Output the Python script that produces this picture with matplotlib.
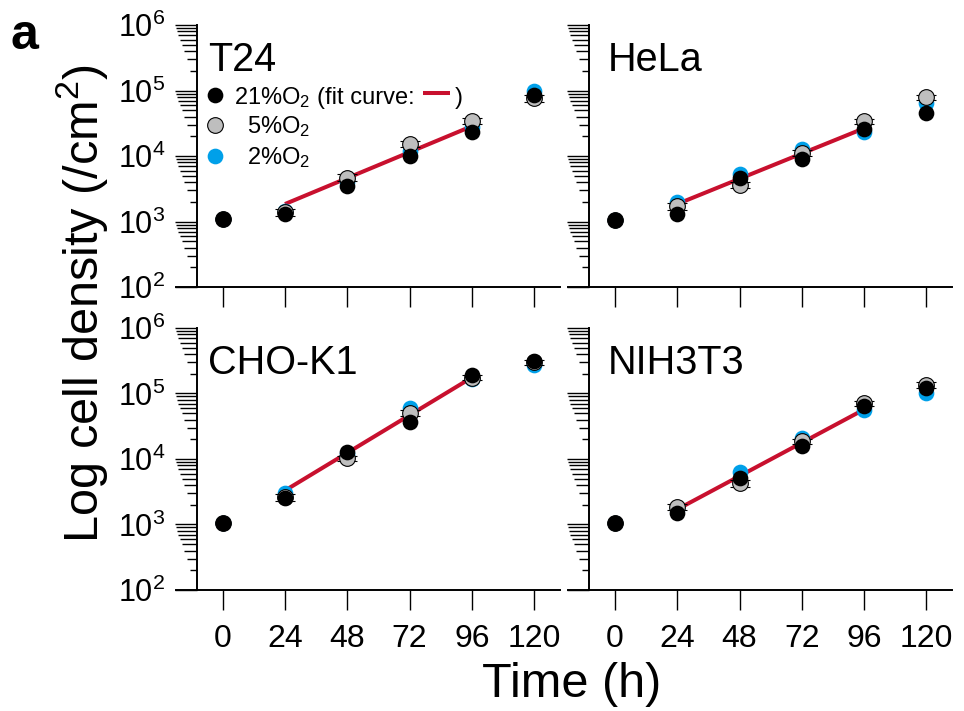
import numpy as np
import matplotlib
matplotlib.use('Agg')
import matplotlib.pyplot as plt
from matplotlib.ticker import FixedLocator, NullFormatter, FuncFormatter
from matplotlib.lines import Line2D
from matplotlib.transforms import blended_transform_factory

plt.rcParams['font.family'] = 'Liberation Sans'
plt.rcParams['mathtext.fontset'] = 'custom'
plt.rcParams['mathtext.rm'] = 'Liberation Sans'
plt.rcParams['mathtext.it'] = 'Liberation Sans:italic'
plt.rcParams['mathtext.bf'] = 'Liberation Sans:bold'

# data (cells / cm2)
hours = [0, 24, 48, 72, 96, 120]
fit_hours = [24, 96]
cell_lines = ['T24', 'HeLa', 'CHO-K1', 'NIH3T3']
o2_labels = ['21%O$\\mathregular{_2}$', '5%O$\\mathregular{_2}$', '2%O$\\mathregular{_2}$']

t24_21 = [1.1e3, 1.3e3, 3.5e3, 1.0e4, 2.35e4, 8.5e4]
t24_5 = [1.1e3, 1.4e3, 4.7e3, 1.55e4, 3.45e4, 7.6e4]
t24_2 = [1.1e3, 1.45e3, 4.0e3, 1.2e4, 2.8e4, 1.0e5]
t24_fit = [1.85e3, 2.85e4]
t24_err = [np.nan, 0.12, 0.12, 0.10, 0.10, 0.12]

hela_21 = [1.05e3, 1.3e3, 4.6e3, 9.0e3, 2.55e4, 4.5e4]
hela_5 = [1.05e3, 1.7e3, 3.6e3, 1.12e4, 3.4e4, 7.9e4]
hela_2 = [1.05e3, 2.0e3, 5.4e3, 1.28e4, 2.35e4, 6.5e4]
hela_fit = [1.85e3, 2.65e4]
hela_err = [np.nan, 0.12, 0.10, 0.10, 0.10, 0.10]

cho_21 = [1.07e3, 2.5e3, 1.3e4, 3.7e4, 1.9e5, 3.1e5]
cho_5 = [1.07e3, 2.6e3, 1.02e4, 5.0e4, 1.75e5, 3.0e5]
cho_2 = [1.07e3, 3.0e3, 1.2e4, 5.9e4, 1.65e5, 2.7e5]
cho_fit = [3.3e3, 1.75e5]
cho_err = [np.nan, 0.12, 0.10, 0.10, 0.08, 0.08]

nih_21 = [1.04e3, 1.5e3, 5.1e3, 1.6e4, 6.4e4, 1.23e5]
nih_5 = [1.04e3, 1.85e3, 4.3e3, 1.85e4, 7.1e4, 1.35e5]
nih_2 = [1.04e3, 1.7e3, 6.4e3, 2.07e4, 5.6e4, 1.03e5]
nih_fit = [1.7e3, 5.7e4]
nih_err = [np.nan, 0.10, 0.12, 0.10, 0.10, 0.10]

panels = [
    (t24_21, t24_5, t24_2, t24_fit, t24_err),
    (hela_21, hela_5, hela_2, hela_fit, hela_err),
    (cho_21, cho_5, cho_2, cho_fit, cho_err),
    (nih_21, nih_5, nih_2, nih_fit, nih_err),
]

black = 'black'
gray = '#bebebe'
blue = '#00a0e9'
red = '#c8102e'

major_len = 15.8  # pt
fig = plt.figure(figsize=(9.64, 7.11), dpi=100)

lefts = [0.1826, 0.5895]
bottoms = [0.5963, 0.1702]
title_x = [0.083, 0.104]

for i, name in enumerate(cell_lines):
    row, col = divmod(i, 2)
    ax = fig.add_axes([lefts[col], bottoms[row], 0.3983, 0.3685])
    s21, s5, s2, fit, err = panels[i]
    err = np.array(err)

    ax.plot(fit_hours, fit, color=red, lw=2.9, solid_capstyle='butt', zorder=1)

    styles = [
        (s2, blue, blue, blue, 2),
        (s5, gray, black, black, 3),
        (s21, black, black, black, 4),
    ]
    for vals, fc, ec, barc, z in styles:
        vals = np.array(vals)
        ax.errorbar(hours, vals, yerr=vals * err, fmt='o', ms=11.3,
                    mfc=fc, mec=ec, mew=0.8 if fc == gray else 0,
                    ecolor=barc, elinewidth=1.0, capsize=7.2, capthick=1.0,
                    zorder=z)

    ax.set_yscale('log')
    ax.set_ylim(1e2, 1e6)
    ax.set_xlim(-18, 130)
    ax.spines[['top', 'right']].set_visible(False)
    ax.spines['left'].set_position(('data', -10))
    for sp in ['left', 'bottom']:
        ax.spines[sp].set_linewidth(1.4)

    ax.set_xticks(hours)
    ax.tick_params(axis='x', length=14.4, width=1.0, labelsize=23, pad=10)

    majors = [1e2, 1e3, 1e4, 1e5, 1e6]
    minors = [m * 10.0 ** k for k in range(2, 6) for m in range(2, 10)]
    ax.yaxis.set_major_locator(FixedLocator(majors))
    ax.yaxis.set_minor_locator(FixedLocator(minors))
    ax.yaxis.set_minor_formatter(NullFormatter())
    ax.yaxis.set_major_formatter(FuncFormatter(
        lambda v, p: r'$\mathregular{10^{%d}}$' % round(np.log10(v))))
    ax.tick_params(axis='y', which='major', length=major_len, width=1.0,
                   labelsize=22, pad=7)
    ax.tick_params(axis='y', which='minor', length=major_len, width=1.0)
    # minor tick length follows the log of the mantissa
    for tick, loc in zip(ax.yaxis.get_minor_ticks(len(minors)), minors):
        mant = loc / 10.0 ** np.floor(np.log10(loc) + 1e-9)
        tick.tick1line.set_markersize(major_len * np.log10(mant))

    if row == 0:
        ax.tick_params(axis='x', labelbottom=False)
    if col == 1:
        ax.tick_params(axis='y', labelleft=False)

    ax.text(title_x[col], 0.826, name, transform=ax.transAxes, fontsize=28.5,
            ha='left', va='baseline')

    if i == 0:
        tr = ax.transAxes
        mk_x = 0.1016
        for (fc, ec, mew), my, ty, lab in zip(
                [(black, black, 0), (gray, black, 0.8), (blue, blue, 0)],
                [0.733, 0.618, 0.500], [0.700, 0.586, 0.468], o2_labels):
            ax.add_line(Line2D([mk_x], [my], marker='o', ms=11.3, mfc=fc,
                               mec=ec, mew=mew, ls='none', transform=tr,
                               clip_on=False))
            ax.text(0.349, ty, lab, transform=tr, fontsize=17,
                    ha='right', va='baseline')
        ax.text(0.367, 0.700, '(fit curve:', transform=tr, fontsize=17,
                ha='left', va='baseline')
        ax.add_line(Line2D([0.643, 0.714], [0.740, 0.740], color=red, lw=2.9,
                           solid_capstyle='butt', transform=tr, clip_on=False))
        ax.text(0.727, 0.700, ')', transform=tr, fontsize=17,
                ha='left', va='baseline')

fig.text(10 / 964, 1 - 49 / 711, 'a', fontsize=36, fontweight='bold',
         ha='left', va='baseline')
fig.text(98 / 964, 1 - 303 / 711, r'Log cell density (/cm$\mathregular{^2}$)',
         fontsize=35, rotation=90, rotation_mode='anchor',
         ha='center', va='baseline')
fig.text(572 / 964, 14 / 711, 'Time (h)', fontsize=35,
         ha='center', va='baseline')

fig.savefig('out.png', dpi=100)
